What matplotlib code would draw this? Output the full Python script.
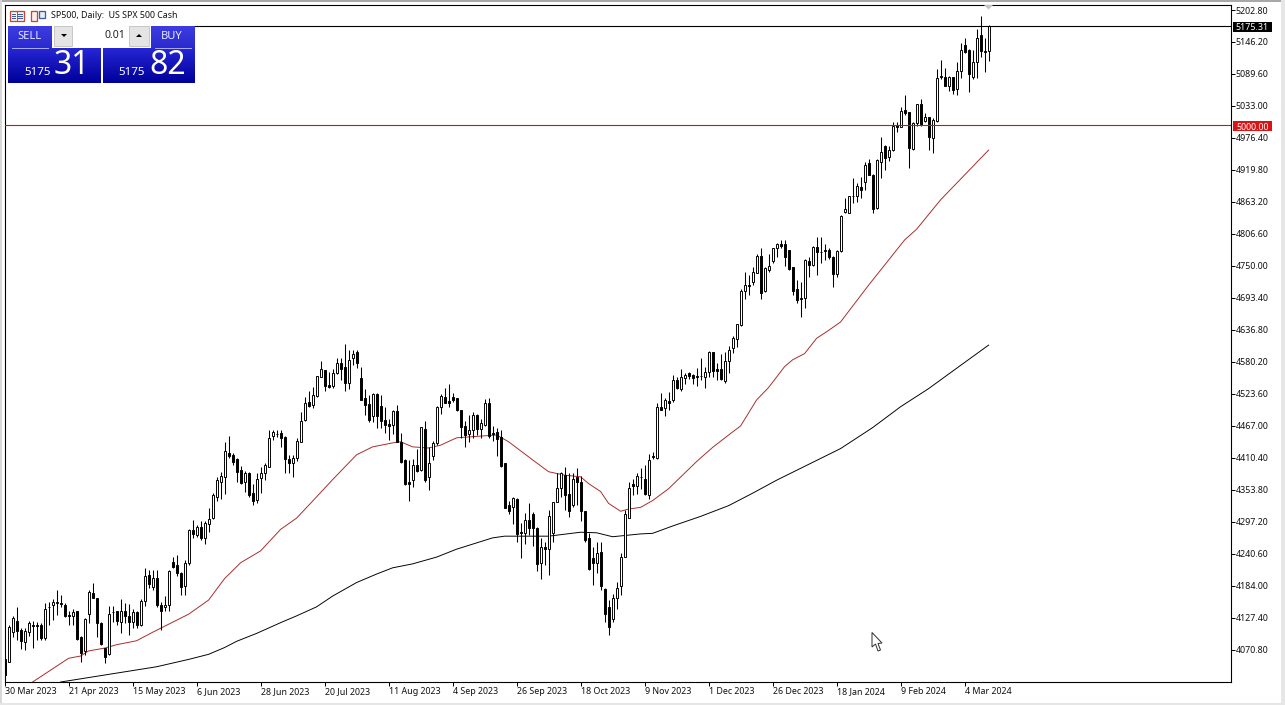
import matplotlib
matplotlib.use("Agg")
import matplotlib.pyplot as plt
import numpy as np
from matplotlib.patches import Polygon, Rectangle

# ── Data ──────────────────────────────────────────────────────────────────────
opens = [
    4054,4050,4103,4122,4106,4085,4103,4114,4114,4115,
    4091,4147,4151,4153,4154,4150,4132,4130,4139,4093,
    4068,4134,4172,4162,4118,4074,4063,4138,4139,4120,
    4139,4131,4121,4137,4115,4158,4203,4182,4198,4150,
    4146,4150,4227,4221,4206,4183,4224,4283,4274,4289,
    4268,4293,4304,4342,4368,4376,4420,4415,4408,4389,
    4368,4384,4349,4336,4375,4384,4395,4449,4453,4454,
    4448,4408,4402,4411,4438,4477,4509,4504,4520,4554,
    4566,4539,4538,4560,4579,4572,4543,4587,4598,4551,
    4516,4505,4484,4523,4502,4477,4471,4469,4493,4439,
    4407,4367,4372,4398,4389,4461,4376,4413,4437,4500,
    4519,4511,4518,4516,4495,4467,4453,4460,4486,4462,
    4469,4508,4455,4456,4448,4401,4327,4323,4338,4279,
    4278,4300,4311,4286,4225,4253,4250,4277,4333,4357,
    4380,4346,4328,4377,4368,4316,4268,4233,4224,4244,
    4178,4147,4126,4162,4184,4236,4305,4364,4360,4377,
    4374,4345,4413,4411,4500,4498,4511,4513,4548,4533,
    4552,4560,4557,4555,4556,4553,4562,4597,4567,4567,
    4546,4582,4605,4621,4645,4706,4717,4721,4738,4768,
    4706,4743,4758,4782,4788,4789,4778,4748,4710,4694,
    4694,4759,4752,4783,4775,4779,4778,4766,4736,4777,
    4845,4844,4874,4873,4889,4899,4932,4911,4852,4934,
    4962,4943,4955,4999,4996,5026,5022,4957,5003,5036,
    5007,5013,4977,5007,5086,5085,5069,5084,5063,5095,
    5141,5132,5084,5110,5159,5131,5131,
]
highs = [
    4060,4115,4130,4146,4109,4109,4122,4122,4121,4118,
    4153,4156,4160,4177,4168,4153,4140,4144,4140,4095,
    4127,4177,4190,4163,4121,4074,4149,4149,4139,4160,
    4153,4152,4143,4139,4160,4215,4213,4213,4213,4156,
    4166,4212,4236,4239,4209,4230,4284,4301,4292,4298,
    4299,4321,4348,4377,4386,4439,4449,4420,4410,4396,
    4387,4386,4365,4383,4395,4402,4460,4460,4459,4459,
    4449,4415,4415,4445,4492,4519,4528,4536,4555,4582,
    4566,4563,4567,4587,4587,4612,4601,4601,4601,4572,
    4533,4522,4525,4525,4522,4501,4480,4495,4504,4454,
    4408,4407,4408,4427,4466,4475,4430,4441,4502,4524,
    4534,4541,4526,4517,4496,4475,4486,4492,4488,4479,
    4514,4516,4467,4463,4460,4402,4335,4342,4339,4295,
    4313,4330,4315,4289,4268,4262,4319,4333,4383,4385,
    4395,4383,4383,4392,4378,4316,4277,4253,4262,4262,
    4180,4159,4170,4191,4243,4318,4368,4374,4384,4392,
    4398,4418,4421,4508,4525,4516,4527,4557,4554,4568,
    4561,4563,4559,4569,4588,4572,4600,4598,4579,4594,
    4598,4608,4626,4648,4710,4740,4734,4748,4772,4781,
    4749,4772,4782,4791,4796,4796,4779,4749,4725,4722,
    4762,4766,4785,4801,4802,4789,4781,4768,4779,4840,
    4870,4874,4905,4896,4907,4934,4939,4913,4940,4979,
    4964,4962,5005,5005,5032,5052,5023,5005,5037,5045,
    5020,5014,5011,5098,5114,5100,5086,5085,5111,5145,
    5154,5133,5132,5169,5192,5153,5176,
]
lows = [
    4024,4050,4094,4088,4072,4071,4095,4074,4088,4088,
    4088,4114,4124,4133,4147,4129,4115,4114,4088,4050,
    4062,4118,4162,4094,4080,4047,4062,4121,4115,4101,
    4118,4097,4109,4109,4113,4149,4180,4177,4147,4106,
    4139,4139,4215,4202,4168,4168,4221,4268,4271,4266,
    4259,4280,4302,4335,4337,4346,4411,4398,4368,4365,
    4351,4342,4327,4331,4348,4371,4395,4442,4448,4430,
    4384,4383,4377,4405,4438,4476,4501,4498,4519,4553,
    4529,4535,4535,4558,4548,4529,4533,4575,4569,4513,
    4486,4474,4474,4464,4463,4455,4442,4453,4439,4402,
    4362,4335,4359,4386,4388,4368,4354,4406,4433,4488,
    4507,4500,4510,4494,4445,4429,4439,4445,4451,4445,
    4467,4445,4441,4414,4395,4321,4311,4293,4262,4233,
    4259,4274,4255,4210,4197,4221,4204,4262,4332,4342,
    4319,4306,4324,4327,4299,4262,4212,4185,4206,4177,
    4121,4097,4121,4144,4168,4236,4305,4345,4347,4356,
    4345,4337,4409,4409,4495,4485,4496,4510,4533,4529,
    4542,4550,4541,4538,4548,4534,4554,4553,4549,4548,
    4543,4560,4596,4607,4644,4691,4699,4717,4737,4692,
    4704,4740,4756,4766,4781,4750,4743,4699,4685,4660,
    4676,4730,4750,4734,4755,4760,4763,4713,4730,4775,
    4844,4843,4861,4864,4870,4884,4911,4843,4851,4905,
    4920,4936,4954,4987,4995,5017,4923,4955,4997,4997,
    5005,4955,4949,5005,5080,5068,5060,5055,5052,5083,
    5127,5058,5081,5082,5120,5094,5113,
]
closes = [
    4026,4112,4127,4105,4087,4104,4118,4113,4113,4091,
    4144,4146,4156,4156,4152,4131,4131,4137,4090,4066,
    4125,4173,4163,4118,4081,4059,4134,4137,4122,4139,
    4131,4120,4137,4115,4158,4202,4187,4198,4150,4140,
    4150,4210,4218,4206,4182,4224,4283,4275,4289,4268,
    4295,4302,4345,4371,4378,4423,4413,4404,4386,4366,
    4383,4345,4335,4374,4383,4398,4445,4456,4452,4446,
    4408,4402,4411,4440,4476,4507,4502,4522,4555,4567,
    4538,4536,4561,4579,4567,4543,4584,4595,4578,4513,
    4504,4477,4523,4484,4476,4469,4467,4493,4439,4404,
    4364,4365,4398,4388,4465,4371,4402,4436,4501,4520,
    4508,4508,4513,4495,4465,4451,4460,4486,4461,4472,
    4508,4450,4453,4444,4396,4322,4316,4340,4276,4277,
    4300,4286,4287,4223,4252,4250,4308,4332,4357,4383,
    4345,4316,4374,4368,4317,4265,4214,4224,4243,4184,
    4135,4112,4162,4181,4236,4312,4358,4361,4379,4376,
    4346,4406,4412,4500,4496,4513,4508,4548,4534,4553,
    4557,4556,4552,4554,4555,4563,4597,4565,4565,4550,
    4582,4602,4623,4647,4706,4716,4715,4740,4768,4703,
    4746,4750,4781,4789,4786,4766,4745,4706,4690,4692,
    4761,4752,4784,4774,4774,4777,4765,4736,4777,4838,
    4850,4873,4873,4891,4884,4929,4911,4851,4938,4952,
    4941,4955,4997,4996,5025,5020,4959,5003,5036,4999,
    5013,4979,5008,5082,5084,5069,5084,5061,5095,5132,
    5128,5089,5111,5154,5131,5128,5175,
]

ma50_bars = [7,10,13,16,19,21,25,28,33,37,46,51,55,59,64,69,73,77,82,88,92,97,99,
             102,104,106,109,113,119,123,126,132,136,140,144,146,149,151,154,156,159,
             162,166,173,177,181,184,188,191,195,197,200,203,206,209,216,225,228,
             234,240,246]
ma50_vals = [4014,4028,4042,4056,4060,4069,4074,4080,4087,4102,4134,4159,4197,4225,
             4246,4284,4304,4334,4372,4416,4430,4437,4439,4430,4429,4428,4433,4446,
             4449,4451,4439,4407,4386,4380,4377,4365,4351,4330,4316,4320,4323,4335,
             4356,4404,4429,4451,4467,4513,4535,4572,4584,4595,4622,4636,4651,4716,
             4796,4815,4867,4911,4955]

ma200_bars = [14,22,30,38,46,51,55,58,63,69,73,78,82,88,93,97,102,108,113,122,125,
              136,144,148,152,159,162,167,174,181,187,193,199,209,217,224,231,238,246]
ma200_vals = [4014,4023,4032,4041,4054,4063,4075,4086,4100,4119,4131,4147,4166,4190,
              4205,4216,4223,4235,4249,4269,4272,4272,4279,4278,4271,4276,4277,4290,
              4307,4326,4348,4371,4392,4427,4464,4501,4533,4569,4610]

price_ticks = [5202.80,5146.20,5089.60,5033.00,4976.40,4919.80,4863.20,4806.60,4750.00,
               4693.40,4636.80,4580.20,4523.60,4467.00,4410.40,4353.80,4297.20,4240.60,
               4184.00,4127.40,4070.80]
date_ticks = [0,16,32,48,64,80,96,112,128,144,160,176,192,208,224,240]
date_labels = ["30 Mar 2023","21 Apr 2023","15 May 2023","6 Jun 2023","28 Jun 2023",
               "20 Jul 2023","11 Aug 2023","4 Sep 2023","26 Sep 2023","18 Oct 2023",
               "9 Nov 2023","1 Dec 2023","26 Dec 2023","18 Jan 2024","9 Feb 2024",
               "4 Mar 2024"]
last_price = 5175.31
level_price = 5000.00

W, H = 1285, 705
PX = 0.72  # one pixel in points at dpi 100
FONT = "Noto Sans"
TXT = 6.4
plt.rcParams["font.family"] = FONT

fig = plt.figure(figsize=(W / 100, H / 100), dpi=100, facecolor="#ffffff")

# ── Main chart ────────────────────────────────────────────────────────────────
L, R, T, B = 4.5, 1230.5, 4.5, 682.0
ax = fig.add_axes([L / W, 1 - B / H, (R - L) / W, (B - T) / H])
ax.set_xlim((L - 4.6) / 4, (R - 4.6) / 4)
ax.set_ylim(5202.8 - (B - 10) * 1.769, 5202.8 + (10 - T) * 1.769)

x = np.arange(len(opens))
o = np.array(opens, dtype=float)
h = np.array(highs, dtype=float)
l = np.array(lows, dtype=float)
c = np.array(closes, dtype=float)
up = c >= o

ax.plot(ma50_bars, ma50_vals, color="#a82a28", lw=0.95 * PX, zorder=1)
ax.plot(ma200_bars, ma200_vals, color="#000000", lw=0.95 * PX, zorder=1)

ax.vlines(x, l, h, color="black", lw=1.05 * PX, zorder=2)
ax.bar(x[up], c[up] - o[up], bottom=o[up], width=0.55, facecolor="white",
       edgecolor="black", linewidth=0.95 * PX, zorder=3)
ax.bar(x[~up], o[~up] - c[~up], bottom=c[~up], width=0.55, facecolor="black",
       edgecolor="black", linewidth=0.95 * PX, zorder=3)

ax.axhline(last_price, color="black", lw=1.1 * PX, zorder=4)
ax.axhline(level_price, color="#cc1414", lw=1.1 * PX, zorder=4)

ax.yaxis.tick_right()
ax.set_yticks(price_ticks)
ax.set_yticklabels([f"{p:.2f}" for p in price_ticks], fontsize=TXT, color="#111111",
                   va="center_baseline")
ax.set_xticks(date_ticks)
ax.set_xticklabels(date_labels, fontsize=TXT, color="#111111", ha="left")
ax.tick_params(axis="y", length=3, width=PX, pad=0.6)
ax.tick_params(axis="x", length=3, width=PX, pad=0.8)
for side in ax.spines.values():
    side.set_linewidth(1.1 * PX)

# ── Terminal furniture, in pixel coordinates ──────────────────────────────────
ui = fig.add_axes([0, 0, 1, 1], facecolor="none", zorder=10)
ui.set_axis_off()


def gradient(x0, y0, x1, y1, top, bottom):
    c0 = np.array(matplotlib.colors.to_rgb(top))
    c1 = np.array(matplotlib.colors.to_rgb(bottom))
    t = np.linspace(0, 1, 32)[:, None, None]
    ui.imshow(c0 + (c1 - c0) * t, extent=(x0, x1, y1, y0), aspect="auto",
              interpolation="bilinear", zorder=11)


# window edges
ui.add_patch(Rectangle((0, 0), W, 2, fc="#a8a8a8", ec="none", zorder=10))
ui.add_patch(Rectangle((0, 0), 2, H, fc="#d8d8d8", ec="none", zorder=10))
ui.add_patch(Rectangle((0, 703), W, 2, fc="#e6e6e6", ec="none", zorder=10))
ui.add_patch(Rectangle((1281, 0), 4, H, fc="#e6e6e6", ec="none", zorder=10))

# header icons and title
ui.add_patch(Rectangle((9.5, 10.5), 14, 10, fc="#fbf3ee", ec="#c8452f", lw=1.3 * PX, zorder=11))
ui.plot([16.5, 16.5], [10.5, 20.5], color="#c8452f", lw=PX, zorder=12)
for yy in (13.5, 15.8, 18):
    ui.plot([11.5, 15], [yy, yy], color="#3c5ca8", lw=PX, zorder=12)
    ui.plot([18, 22], [yy, yy], color="#3c5ca8", lw=PX, zorder=12)
ui.add_patch(Rectangle((30.5, 10.5), 6.5, 10, fc="#fbf3ee", ec="#c8452f", lw=1.3 * PX, zorder=11))
ui.add_patch(Rectangle((38.5, 10.5), 6, 7, fc="#e8eef8", ec="#3c5ca8", lw=1.3 * PX, zorder=11))
ui.text(51, 15.5, "SP500, Daily:  US SPX 500 Cash", fontsize=TXT, color="#111111",
        ha="left", va="center", zorder=12)

# one-click trading panel
ui.add_patch(Rectangle((6, 24), 189, 59, fc="white", ec="none", zorder=10))
gradient(8, 26, 52, 48, "#3c3ce0", "#2a2ad0")
gradient(151, 26, 195, 48, "#3c3ce0", "#2a2ad0")
gradient(8, 48, 101, 83, "#2626d4", "#00009a")
gradient(103, 48, 195, 83, "#2626d4", "#00009a")
ui.plot([12, 48], [47.5, 47.5], color="#a8a8f0", lw=PX, zorder=12)
ui.plot([155, 191], [47.5, 47.5], color="#a8a8f0", lw=PX, zorder=12)
ui.add_patch(Rectangle((54, 26), 18, 20, fc="#e4e4e4", ec="#c8c8c8", lw=PX, zorder=11))
ui.add_patch(Rectangle((129, 26), 20, 20, fc="#e4e4e4", ec="#c8c8c8", lw=PX, zorder=11))
ui.add_patch(Polygon([(61, 34), (67, 34), (64, 37)], fc="black", ec="none", zorder=12))
ui.add_patch(Polygon([(136, 37), (142, 37), (139, 34)], fc="black", ec="none", zorder=12))
ui.text(29, 36.5, "SELL", fontsize=8, color="#e8e8ff", ha="center", va="center", zorder=12)
ui.text(172, 36.5, "BUY", fontsize=8, color="#e8e8ff", ha="center", va="center", zorder=12)
ui.text(125, 36, "0.01", fontsize=7.6, color="#222222", ha="right", va="center", zorder=12)
ui.text(51, 72.5, "5175", fontsize=8.4, fontweight="bold", color="white", ha="right", va="center", zorder=12)
ui.text(54, 65.5, "31", fontsize=23, color="white", ha="left", va="center", zorder=12)
ui.text(145, 72.5, "5175", fontsize=8.4, fontweight="bold", color="white", ha="right", va="center", zorder=12)
ui.text(149, 65.5, "82", fontsize=23, color="white", ha="left", va="center", zorder=12)

# price tags on the right scale
ui.add_patch(Rectangle((1233, 21.5), 39, 10.5, fc="black", ec="none", zorder=11))
ui.text(1252.5, 27, f"{last_price:.2f}", fontsize=TXT, color="white",
        ha="center", va="center_baseline", zorder=12)
ui.add_patch(Rectangle((1233, 120.5), 39, 10.5, fc="#d81414", ec="none", zorder=11))
ui.text(1252.5, 126, f"{level_price:.2f}", fontsize=TXT, color="white",
        ha="center", va="center_baseline", zorder=12)

# chart shift marker and mouse pointer
ui.add_patch(Polygon([(984, 5), (993, 5), (988.5, 9.5)], fc="#c4c4c4", ec="none", zorder=11))
ui.add_patch(Polygon([(872, 632.5), (872, 647), (875.5, 644), (878, 651), (880.5, 650),
                      (878, 643.5), (882, 643)],
                     fc="white", ec="#333333", lw=PX, zorder=12))

ui.set_xlim(0, W)
ui.set_ylim(H, 0)

fig.savefig("out.png", dpi=100)
